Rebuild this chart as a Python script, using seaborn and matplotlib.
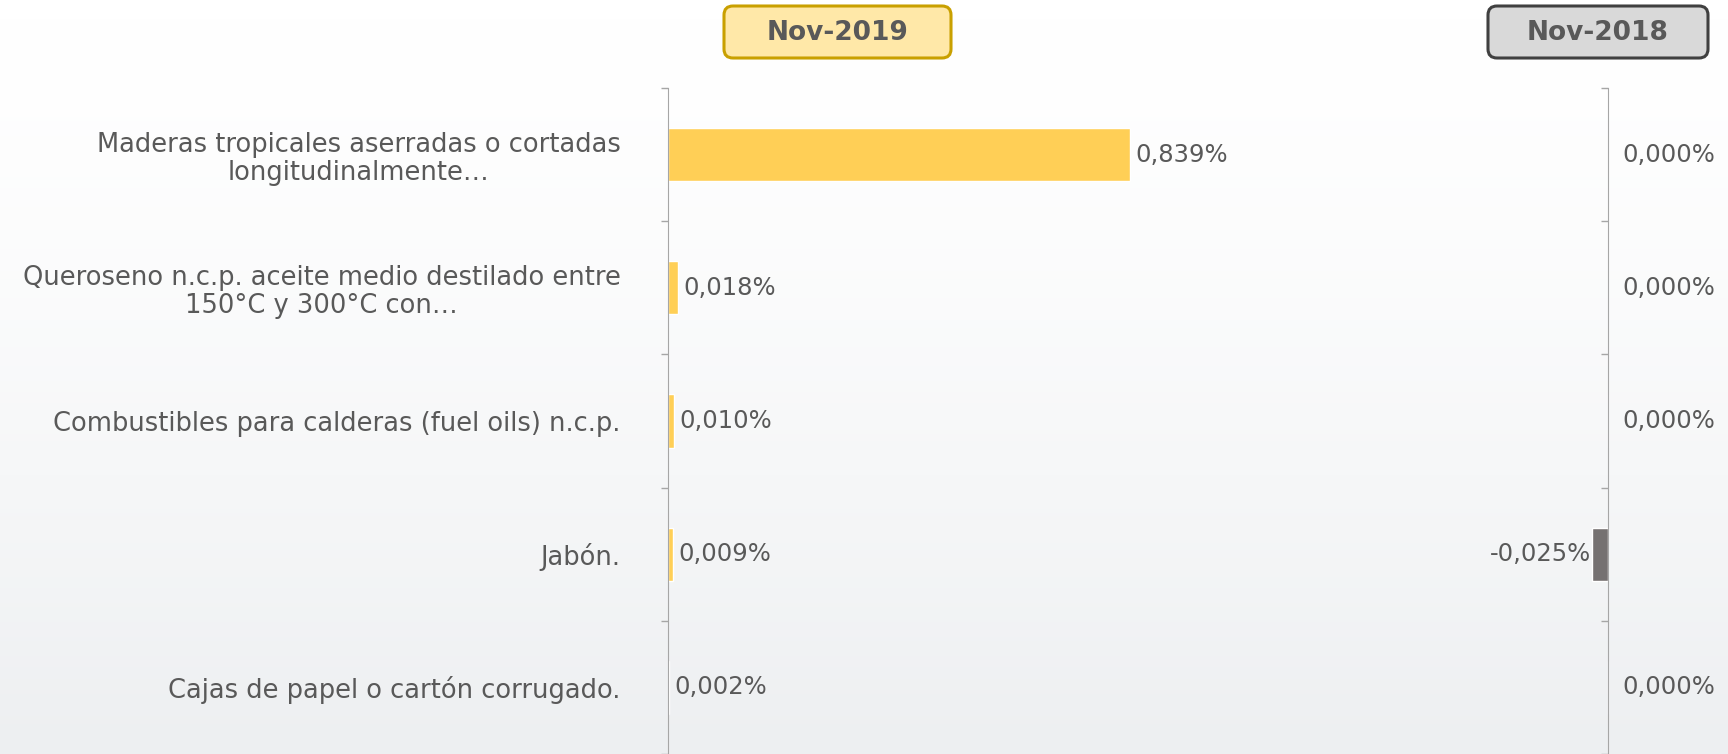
import matplotlib
matplotlib.use('Agg')
import matplotlib.pyplot as plt
import seaborn as sns
import pandas as pd
import numpy as np
from matplotlib.patches import FancyBboxPatch

categorias = ['Maderas tropicales aserradas o cortadas\nlongitudinalmente…',
              'Queroseno n.c.p. aceite medio destilado entre\n150°C y 300°C con…',
              'Combustibles para calderas (fuel oils) n.c.p.',
              'Jabón.',
              'Cajas de papel o cartón corrugado.']
valores_2019 = [0.839, 0.018, 0.010, 0.009, 0.002]
valores_2018 = [0.000, 0.000, 0.000, -0.025, 0.000]
periodos = ['Nov-2019', 'Nov-2018']

def fmt(v):
    return '{:.3f}%'.format(v).replace('.', ',')

sns.set_style("white")
plt.rcParams['font.family'] = ['DejaVu Sans']

W, H = 1728, 754
fig = plt.figure(figsize=(W / 100, H / 100), dpi=100)
gris_txt = '#595959'
gris_eje = '#A6A6A6'

# fondo claro con degradado suave
bg = fig.add_axes([0, 0, 1, 1], zorder=-5)
grad = np.linspace(0, 1, 200)[:, None] ** 1.5
bg.imshow(grad, cmap=matplotlib.colors.LinearSegmentedColormap.from_list('f', ['#FFFFFF', '#EDEFF1']),
          extent=[0, W, H, 0], aspect='auto')
bg.set_xlim(0, W)
bg.set_ylim(H, 0)
bg.axis('off')

# encabezados
cajas = [(724, 951, '#FFE8A8', '#C9A000'), (1488, 1708, '#D9D9D9', '#404040')]
for (x0, x1, fc, ec), txt in zip(cajas, periodos):
    bg.add_patch(FancyBboxPatch((x0, 6), x1 - x0, 52, boxstyle='round,pad=0,rounding_size=9',
                                fc=fc, ec=ec, lw=2.2))
    bg.text((x0 + x1) / 2, 33, txt, ha='center', va='center', fontsize=19,
            fontweight='bold', color=gris_txt)

# panel Nov-2019
escala1 = 550.7
ax1 = fig.add_axes([668 / W, 0, 780 / W, 666 / H])
ax1.patch.set_alpha(0)
df1 = pd.DataFrame({'cat': categorias, 'val': valores_2019})
sns.barplot(data=df1, x='val', y='cat', orient='h', color='#FFCF56', saturation=1,
            width=0.4, ax=ax1)
ax1.set_xlim(0, 780 / escala1)
ax1.set_ylim(4.5, -0.5)
ax1.set_xlabel('')
ax1.set_ylabel('')
ax1.set_xticks([])
ax1.set_yticks(range(len(categorias)), categorias)
ax1.set_yticks(np.arange(-0.5, len(categorias), 1), minor=True)
ax1.tick_params(axis='y', which='major', length=0, pad=34, labelsize=18.5, labelcolor=gris_txt)
ax1.tick_params(axis='y', which='minor', length=5, width=1, color=gris_eje, left=True)
for t in ax1.get_yticklabels():
    t.set_multialignment('center')
    t.set_linespacing(1.1)
for s in ['top', 'right', 'bottom']:
    ax1.spines[s].set_visible(False)
ax1.spines['left'].set_color(gris_eje)
ax1.bar_label(ax1.containers[0], labels=[fmt(v) for v in valores_2019], padding=4,
              fontsize=17.5, color=gris_txt)

# panel Nov-2018
escala2 = 660.0
ax2 = fig.add_axes([1480 / W, 0, 240 / W, 666 / H])
ax2.patch.set_alpha(0)
df2 = pd.DataFrame({'cat': categorias, 'val': valores_2018})
sns.barplot(data=df2, x='val', y='cat', orient='h', color='#757171', saturation=1,
            width=0.4, ax=ax2)
ax2.set_xlim(-128 / escala2, 112 / escala2)
ax2.set_ylim(4.5, -0.5)
ax2.set_xlabel('')
ax2.set_ylabel('')
ax2.set_xticks([])
ax2.set_yticks(range(len(categorias)), [''] * len(categorias))
ax2.set_yticks(np.arange(-0.5, len(categorias), 1), minor=True)
ax2.tick_params(axis='y', which='major', length=0)
ax2.tick_params(axis='y', which='minor', length=5, width=1, color=gris_eje, left=True)
for s in ['top', 'right', 'bottom']:
    ax2.spines[s].set_visible(False)
ax2.spines['left'].set_position(('data', 0))
ax2.spines['left'].set_color(gris_eje)
for i, v in enumerate(valores_2018):
    if v < 0:
        ax2.annotate(fmt(v), (v, i), xytext=(0, 0), textcoords='offset points',
                     ha='right', va='center', fontsize=17.5, color=gris_txt)
    else:
        ax2.annotate(fmt(v), (v, i), xytext=(10, 0), textcoords='offset points',
                     ha='left', va='center', fontsize=17.5, color=gris_txt)

fig.savefig('out.png', dpi=100)
